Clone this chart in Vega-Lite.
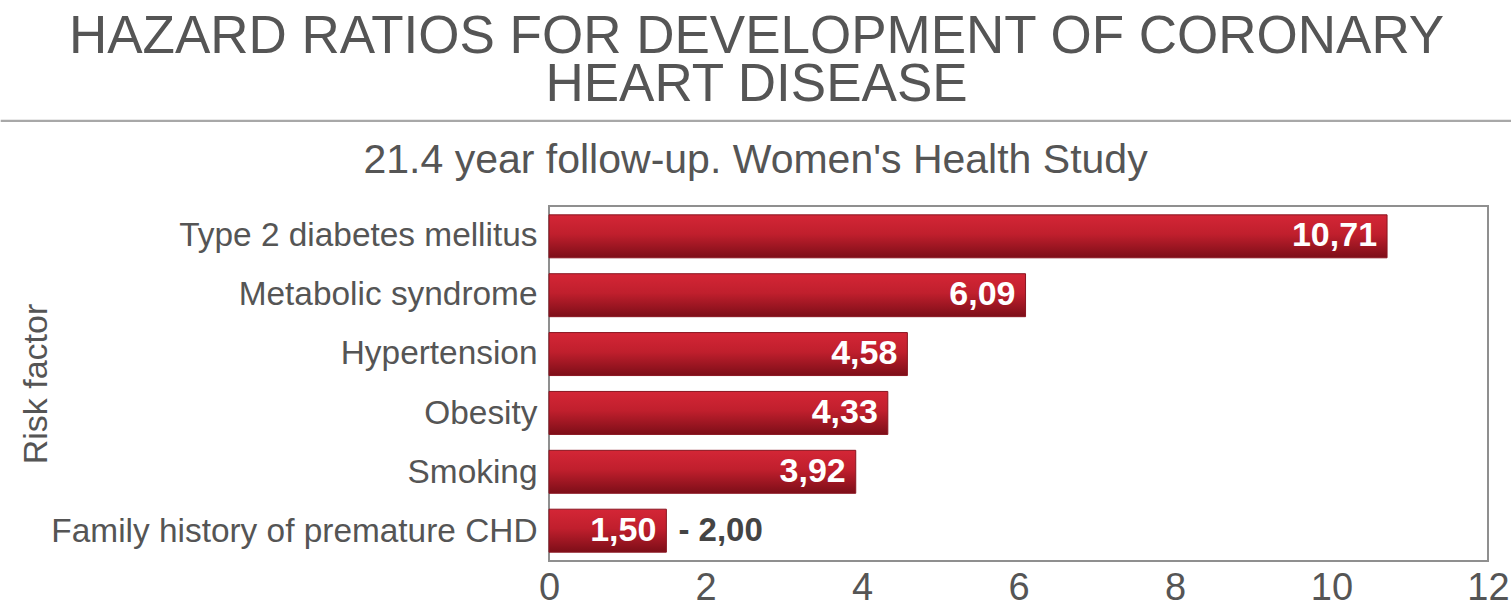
{
  "$schema": "https://vega.github.io/schema/vega-lite/v6.json",
  "background": "white",
  "padding": {"left": 0, "right": 0, "top": 10, "bottom": 0},
  "spacing": 18,
  "config": {
    "font": "Liberation Sans",
    "view": {"stroke": "#8f8f8f", "strokeWidth": 2},
    "locale": {
      "number": {"decimal": ",", "thousands": ".", "grouping": [3], "currency": ["", " €"]}
    },
    "title": {"color": "#555555", "fontWeight": "normal", "anchor": "middle"}
  },
  "vconcat": [
    {
      "title": {
        "text": ["HAZARD RATIOS FOR DEVELOPMENT OF CORONARY", "HEART DISEASE"],
        "fontSize": 53,
        "lineHeight": 48,
        "offset": 8
      },
      "width": 1511,
      "height": 1,
      "view": {"stroke": "#a8a8a8", "strokeWidth": 1.2},
      "data": {"values": []},
      "mark": "point",
      "encoding": {}
    },
    {
      "title": {
        "text": "21.4 year follow-up. Women's Health Study",
        "fontSize": 41,
        "offset": 23
      },
      "spacing": 0,
      "data": {
        "values": [
          {"factor": "Type 2 diabetes mellitus", "hr": 10.71},
          {"factor": "Metabolic syndrome", "hr": 6.09},
          {"factor": "Hypertension", "hr": 4.58},
          {"factor": "Obesity", "hr": 4.33},
          {"factor": "Smoking", "hr": 3.92},
          {"factor": "Family history of premature CHD", "hr": 1.5, "note": "- 2,00"}
        ]
      },
      "hconcat": [
        {
          "width": 536,
          "height": 355,
          "view": {"stroke": null},
          "mark": {"type": "point", "opacity": 0},
          "encoding": {
            "y": {
              "field": "factor",
              "type": "nominal",
              "sort": null,
              "scale": {"paddingInner": 0.27, "paddingOuter": 0.15},
              "axis": {
                "title": "Risk factor",
                "offset": -536,
                "maxExtent": 600,
                "titleFontSize": 34,
                "titleFontWeight": "normal",
                "titleColor": "#555555",
                "titlePadding": -3,
                "labelFontSize": 33.4,
                "labelColor": "#555555",
                "labelPadding": 0,
                "labelLimit": 700,
                "ticks": false,
                "domain": false
              }
            }
          }
        },
        {
          "width": 939,
          "height": 355,
          "encoding": {
            "y": {
              "field": "factor",
              "type": "nominal",
              "sort": null,
              "scale": {"paddingInner": 0.27, "paddingOuter": 0.15},
              "axis": null
            },
            "x": {
              "field": "hr",
              "type": "quantitative",
              "scale": {"domain": [0, 12], "nice": false},
              "axis": {
                "values": [0, 2, 4, 6, 8, 10, 12],
                "format": "d",
                "title": null,
                "grid": false,
                "ticks": false,
                "domain": false,
                "labelFontSize": 38,
                "labelColor": "#555555",
                "labelPadding": 8,
                "labelFlush": false
              }
            }
          },
          "layer": [
            {
              "mark": {
                "type": "bar",
                "fill": {
                  "gradient": "linear",
                  "x1": 0, "y1": 0, "x2": 0, "y2": 1,
                  "stops": [
                    {"offset": 0, "color": "#d42636"},
                    {"offset": 0.45, "color": "#c01f2d"},
                    {"offset": 1, "color": "#7d0e18"}
                  ]
                },
                "stroke": "#8a1520",
                "strokeWidth": 1
              }
            },
            {
              "mark": {
                "type": "text",
                "align": "right",
                "baseline": "middle",
                "dx": -10,
                "color": "white",
                "fontWeight": "bold",
                "fontSize": 34
              },
              "encoding": {"text": {"field": "hr", "type": "quantitative", "format": ".2f"}}
            },
            {
              "transform": [{"filter": "datum.note != null"}],
              "mark": {
                "type": "text",
                "align": "left",
                "baseline": "middle",
                "dx": 12,
                "color": "#444444",
                "fontWeight": "bold",
                "fontSize": 33
              },
              "encoding": {"text": {"field": "note", "type": "nominal"}}
            }
          ]
        }
      ]
    }
  ]
}
